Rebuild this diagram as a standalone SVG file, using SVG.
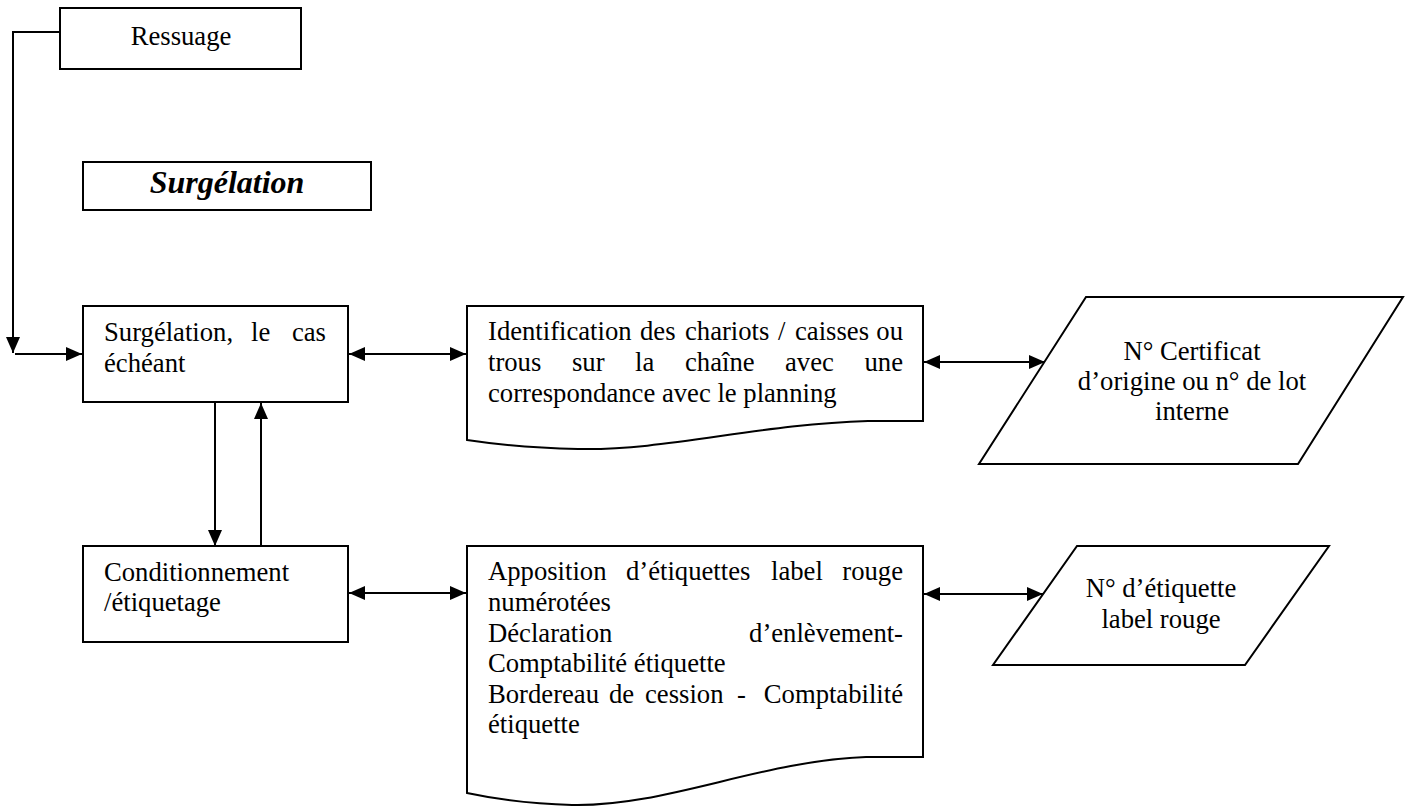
<svg xmlns="http://www.w3.org/2000/svg" width="1410" height="807" viewBox="0 0 1410 807">
  <style>
    .shape { fill: #fff; stroke: #000; stroke-width: 2; }
    .link { fill: none; stroke: #000; stroke-width: 2; }
    .txt { font-family: "Liberation Serif", "Times New Roman", serif; font-size: 26.67px; fill: #000; }
    .mid { text-anchor: middle; }
    .end { text-anchor: end; }
    .title { font-family: "Liberation Serif", "Times New Roman", serif; font-size: 32px; font-weight: bold; font-style: italic; text-anchor: middle; fill: #000; }
  </style>
  <defs>
    <marker id="head" markerUnits="userSpaceOnUse" markerWidth="16" markerHeight="14" refX="16" refY="7" orient="auto-start-reverse">
      <path d="M0,0 L16,7 L0,14 Z" fill="#000"/>
    </marker>
  </defs>

  <rect width="1410" height="807" fill="#fff"/>

  <!-- connectors -->
  <g id="connectors">
    <path class="link" d="M60,32 H13 V353" marker-end="url(#head)"/>
    <path class="link" d="M15,354 H82" marker-end="url(#head)"/>
    <path class="link" d="M349,354 H466" marker-start="url(#head)" marker-end="url(#head)"/>
    <path class="link" d="M924,362 H1045" marker-start="url(#head)" marker-end="url(#head)"/>
    <path class="link" d="M215,403 V546" marker-end="url(#head)"/>
    <path class="link" d="M261,546 V403" marker-end="url(#head)"/>
    <path class="link" d="M349,593 H466" marker-start="url(#head)" marker-end="url(#head)"/>
    <path class="link" d="M924,594 H1043" marker-start="url(#head)" marker-end="url(#head)"/>
  </g>

  <g id="ressuage">
    <rect class="shape" x="60" y="8" width="241" height="61"/>
    <text class="txt mid" x="181" y="45">Ressuage</text>
  </g>

  <g id="surgelation-titre">
    <rect class="shape" x="83" y="162" width="288" height="48"/>
    <text class="title" x="227" y="193">Surgélation</text>
  </g>

  <g id="surgelation">
    <rect class="shape" x="83" y="306" width="265" height="96"/>
    <text class="txt" x="104" y="341">Surgélation,</text>
    <text class="txt" x="251" y="341">le</text>
    <text class="txt end" x="326" y="341">cas</text>
    <text class="txt" x="104" y="372">échéant</text>
  </g>

  <g id="identification">
    <path class="shape" d="M467,306 H923 V421 H868 C 760,424 665,451 578,449 C 535,448 500,445 467,440 Z"/>
    <text class="txt" y="340"><tspan x="488">Identification</tspan><tspan x="640">des</tspan><tspan x="685">chariots</tspan><tspan x="778">/</tspan><tspan x="795">caisses</tspan></text>
    <text class="txt end" x="903" y="340">ou</text>
    <text class="txt" y="371"><tspan x="488">trous</tspan><tspan x="572">sur</tspan><tspan x="635">la</tspan><tspan x="685">chaîne</tspan><tspan x="785">avec</tspan></text>
    <text class="txt end" x="903" y="371">une</text>
    <text class="txt" x="488" y="402">correspondance avec le planning</text>
  </g>

  <g id="certificat">
    <polygon class="shape" points="1086,297 1403,297 1298,464 979,464"/>
    <text class="txt mid" x="1192" y="360">N° Certificat</text>
    <text class="txt mid" x="1192" y="390">d’origine ou n° de lot</text>
    <text class="txt mid" x="1192" y="420">interne</text>
  </g>

  <g id="conditionnement">
    <rect class="shape" x="83" y="546" width="265" height="96"/>
    <text class="txt" x="104" y="581">Conditionnement</text>
    <text class="txt" x="104" y="611">/étiquetage</text>
  </g>

  <g id="apposition">
    <path class="shape" d="M467,546 H923 V757 H866 C 760,761 665,807 572,805 C 530,804 500,800 467,793 Z"/>
    <text class="txt" y="580"><tspan x="488">Apposition</tspan><tspan x="626">d’étiquettes</tspan><tspan x="771">label</tspan></text>
    <text class="txt end" x="903" y="580">rouge</text>
    <text class="txt" x="488" y="611">numérotées</text>
    <text class="txt" x="488" y="642">Déclaration</text>
    <text class="txt end" x="903" y="642">d’enlèvement-</text>
    <text class="txt" x="488" y="672">Comptabilité étiquette</text>
    <text class="txt" y="703"><tspan x="488">Bordereau</tspan><tspan x="609">de</tspan><tspan x="645">cession</tspan><tspan x="737">-</tspan></text>
    <text class="txt end" x="903" y="703">Comptabilité</text>
    <text class="txt" x="488" y="733">étiquette</text>
  </g>

  <g id="etiquette">
    <polygon class="shape" points="1077,546 1329,546 1245,665 993,665"/>
    <text class="txt mid" x="1161" y="597">N° d’étiquette</text>
    <text class="txt mid" x="1161" y="628">label rouge</text>
  </g>
</svg>
